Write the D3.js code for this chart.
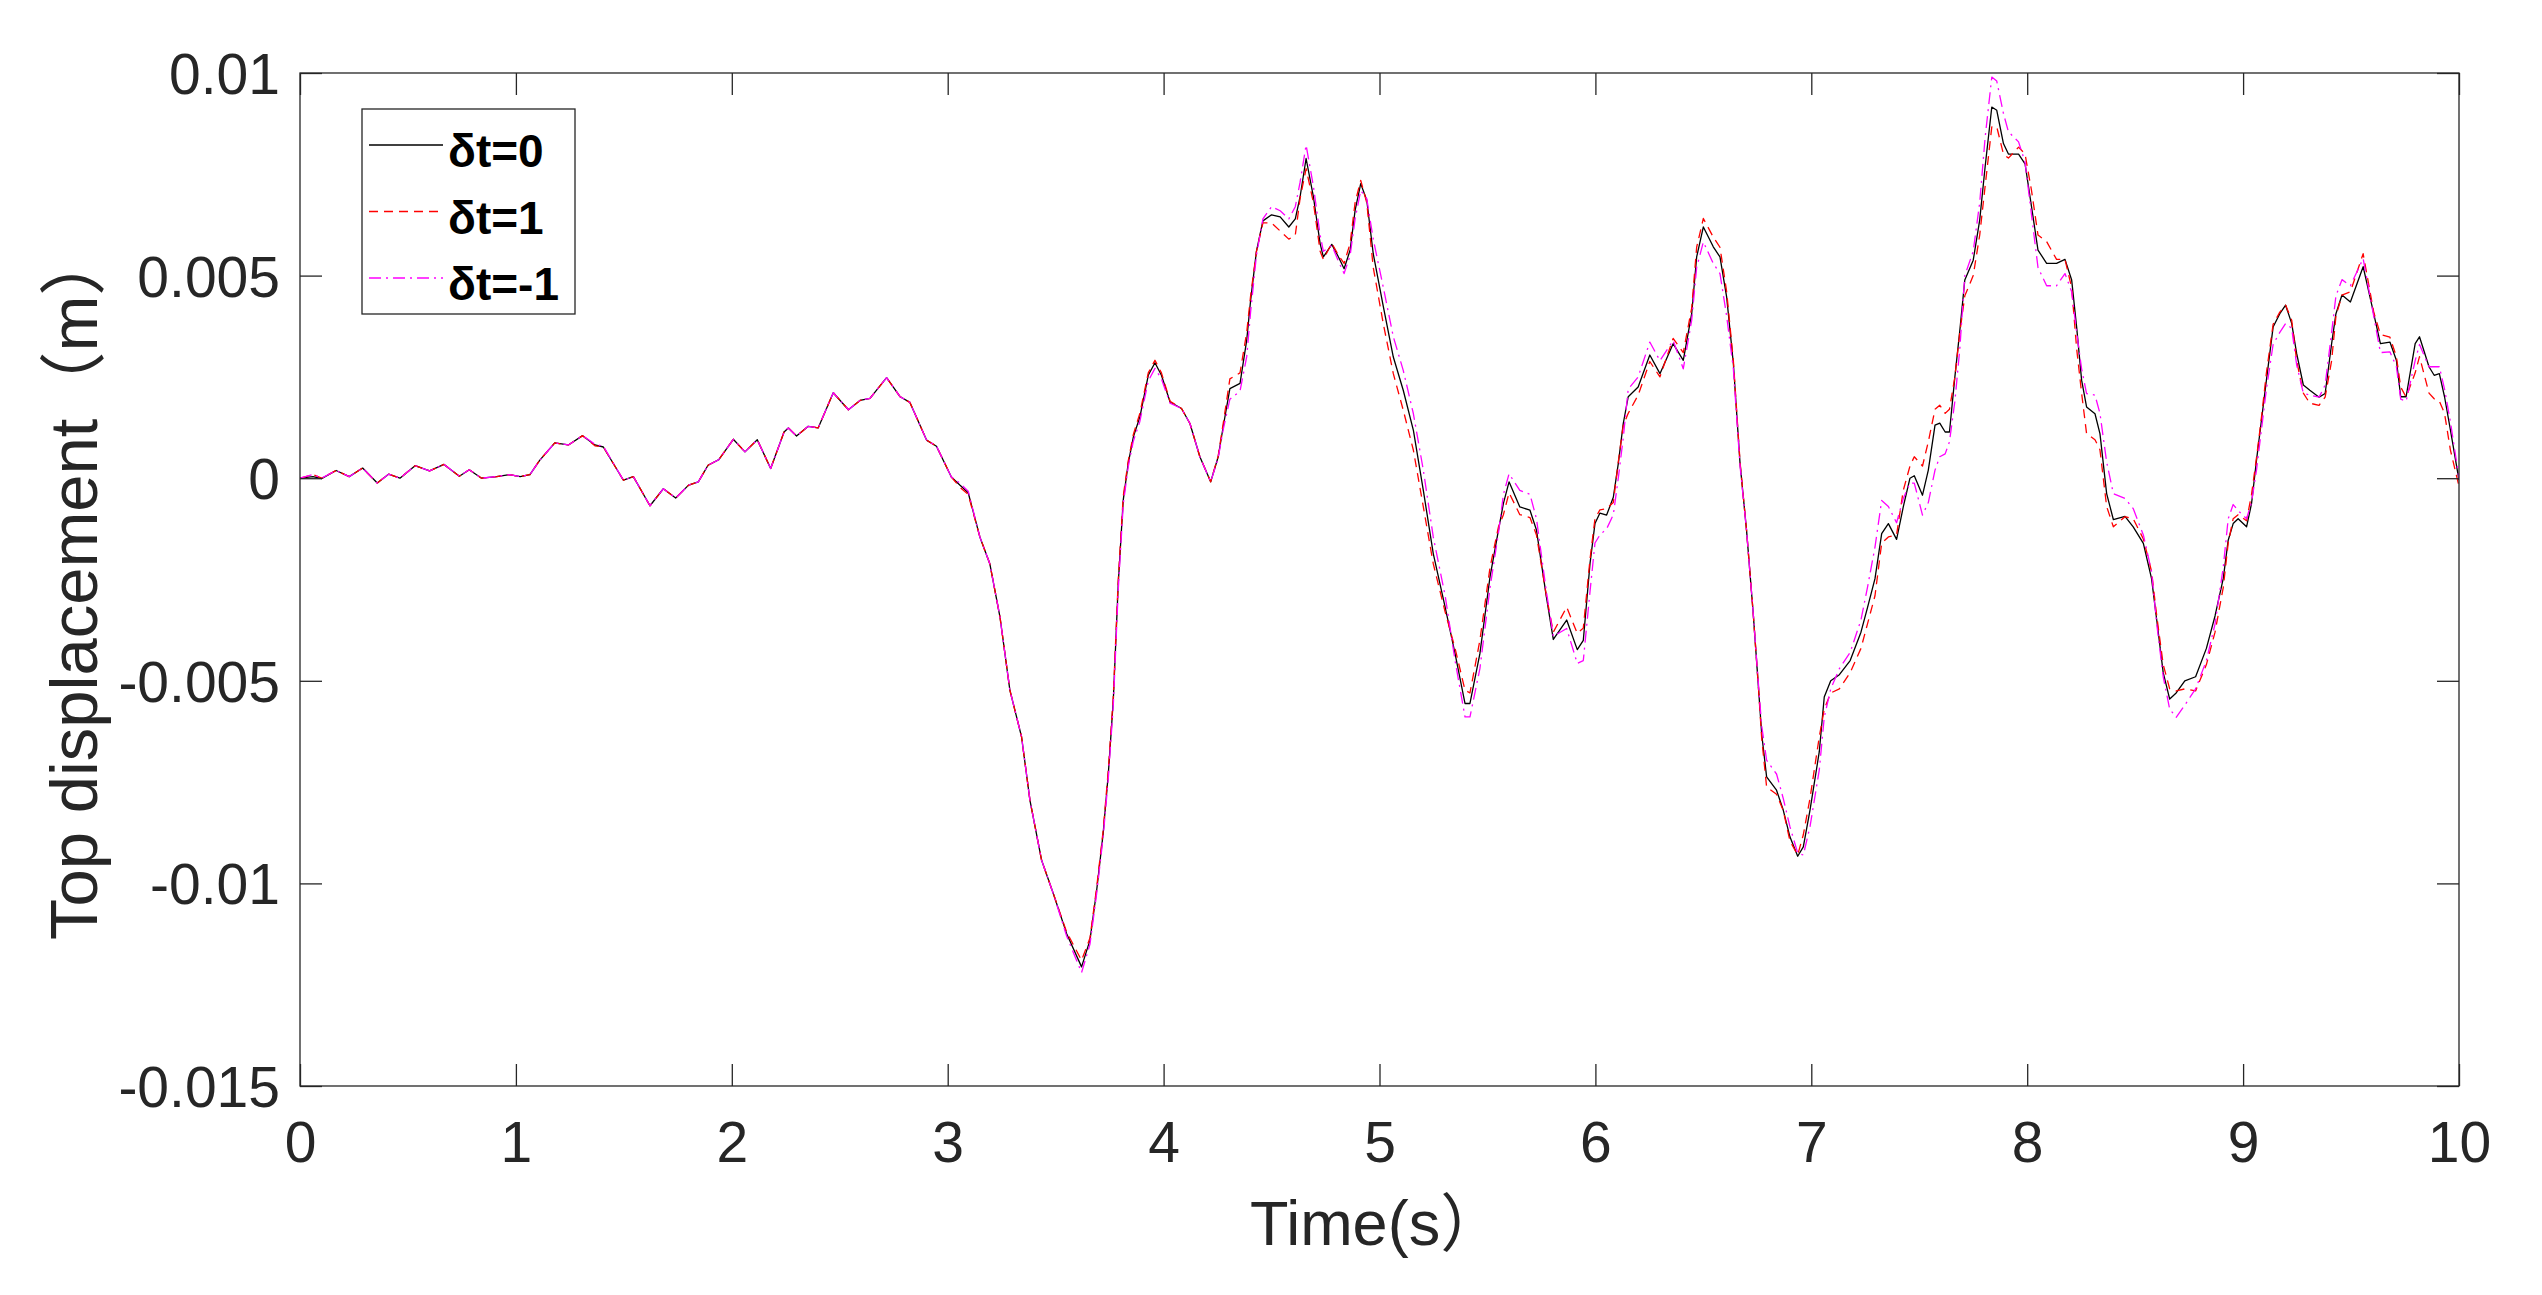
<!DOCTYPE html>
<html>
<head>
<meta charset="utf-8">
<script src="https://cdn.jsdelivr.net/npm/d3@7"></script>
<style>
  html, body { margin: 0; padding: 0; background: #fff; }
  svg { display: block; }
</style>
</head>
<body>
<svg id="chart" width="2542" height="1295"></svg>
<script>
// time samples (s) shared by the three runs
const timeS = [
  0.00, 0.06, 0.10, 0.167, 0.228, 0.29, 0.358, 0.41, 0.463, 0.533,
  0.60, 0.667, 0.738, 0.784, 0.841, 0.911, 0.97, 1.02, 1.065, 1.11,
  1.18, 1.243, 1.309, 1.366, 1.405, 1.498, 1.544, 1.621, 1.683, 1.74,
  1.80, 1.845, 1.89, 1.94, 2.007, 2.061, 2.118, 2.18, 2.242, 2.262,
  2.30, 2.354, 2.40, 2.47, 2.54, 2.594, 2.64, 2.717, 2.78, 2.825,
  2.902, 2.948, 3.017, 3.056, 3.095, 3.149, 3.195, 3.242, 3.288, 3.342,
  3.381, 3.435, 3.489, 3.551, 3.62, 3.659, 3.69, 3.72, 3.744, 3.767,
  3.79, 3.813, 3.836, 3.86, 3.89, 3.929, 3.96, 3.99, 4.03, 4.083,
  4.122, 4.168, 4.218, 4.253, 4.276, 4.307, 4.354, 4.385, 4.403, 4.43,
  4.46, 4.50, 4.54, 4.58, 4.61, 4.632, 4.66, 4.694, 4.725, 4.74,
  4.779, 4.81, 4.836, 4.864, 4.887, 4.913, 4.941, 4.971, 5.018, 5.064,
  5.11, 5.157, 5.203, 5.249, 5.304, 5.35, 5.396, 5.419, 5.465, 5.512,
  5.551, 5.574, 5.60, 5.65, 5.697, 5.727, 5.773, 5.805, 5.867, 5.916,
  5.944, 5.975, 5.998, 6.021, 6.052, 6.083, 6.106, 6.129, 6.152, 6.198,
  6.252, 6.299, 6.36, 6.407, 6.446, 6.469, 6.50, 6.546, 6.577, 6.608,
  6.639, 6.67, 6.70, 6.731, 6.754, 6.77, 6.793, 6.839, 6.87, 6.901,
  6.937, 6.963, 6.994, 7.037, 7.06, 7.09, 7.13, 7.18, 7.23, 7.26,
  7.295, 7.326, 7.357, 7.395, 7.426, 7.457, 7.477, 7.515, 7.542, 7.573,
  7.595, 7.62, 7.64, 7.665, 7.688, 7.711, 7.75, 7.78, 7.805, 7.836,
  7.859, 7.89, 7.913, 7.96, 7.99, 8.02, 8.05, 8.09, 8.136, 8.175,
  8.206, 8.229, 8.252, 8.275, 8.314, 8.337, 8.368, 8.399, 8.453, 8.491,
  8.538, 8.576, 8.60, 8.63, 8.66, 8.69, 8.73, 8.78, 8.83, 8.87,
  8.908, 8.931, 8.954, 8.977, 9.016, 9.039, 9.062, 9.085, 9.108, 9.139,
  9.17, 9.197, 9.225, 9.248, 9.279, 9.309, 9.352, 9.38, 9.41, 9.43,
  9.458, 9.497, 9.556, 9.605, 9.636, 9.68, 9.71, 9.73, 9.755, 9.797,
  9.817, 9.861, 9.885, 9.909, 9.933, 9.96, 10.00
];

// top displacement, in mm (axis labels are in m)
const dt0 = [
  0.00, 0.04, -0.01, 0.19, 0.04, 0.25, -0.12, 0.10, 0.00, 0.31,
  0.18, 0.34, 0.05, 0.21, 0.00, 0.04, 0.09, 0.04, 0.09, 0.44,
  0.87, 0.82, 1.05, 0.82, 0.77, -0.05, 0.04, -0.68, -0.26, -0.49,
  -0.17, -0.09, 0.32, 0.46, 0.96, 0.65, 0.95, 0.24, 1.14, 1.24,
  1.04, 1.28, 1.24, 2.11, 1.69, 1.92, 1.97, 2.48, 2.01, 1.87,
  0.94, 0.79, 0.03, -0.17, -0.36, -1.45, -2.11, -3.42, -5.23, -6.38,
  -7.95, -9.43, -10.25, -11.24, -12.06, -11.40, -10.17, -8.77, -7.29, -5.48,
  -2.60, -0.54, 0.36, 1.02, 1.51, 2.54, 2.85, 2.54, 1.88, 1.72,
  1.35, 0.53, -0.09, 0.53, 1.27, 2.21, 2.34, 3.41, 4.39, 5.60,
  6.35, 6.50, 6.45, 6.20, 6.40, 6.94, 7.89, 6.94, 5.79, 5.46,
  5.77, 5.46, 5.17, 5.63, 6.61, 7.27, 6.86, 5.54, 4.23, 2.99,
  2.17, 1.18, -0.30, -1.86, -3.18, -4.33, -5.56, -5.56, -4.33, -2.43,
  -1.28, -0.62, -0.09, -0.71, -0.79, -1.28, -2.93, -3.98, -3.50, -4.23,
  -4.00, -2.11, -1.12, -0.86, -0.91, -0.47, 0.36, 1.35, 2.01, 2.25,
  3.04, 2.58, 3.32, 2.91, 4.06, 5.46, 6.20, 5.71, 5.46, 4.47,
  2.83, 0.36, -1.28, -3.34, -5.07, -6.30, -7.37, -7.70, -8.19, -8.85,
  -9.33, -9.10, -8.19, -6.75, -5.40, -5.00, -4.85, -4.50, -3.80, -3.20,
  -2.48, -1.37, -1.12, -1.51, -0.71, 0.00, 0.06, -0.42, 0.20, 1.31,
  1.36, 1.14, 1.14, 2.50, 3.65, 4.89, 5.38, 6.37, 7.68, 9.16,
  9.08, 8.26, 8.00, 8.00, 7.76, 6.70, 5.63, 5.30, 5.30, 5.40,
  4.89, 3.73, 2.42, 1.76, 1.59, 1.10, -0.38, -1.02, -0.94, -1.20,
  -1.61, -2.48, -3.50, -4.80, -5.45, -5.30, -5.00, -4.90, -4.20, -3.40,
  -2.48, -1.53, -1.12, -1.00, -1.20, -0.63, 0.44, 1.43, 2.42, 3.73,
  4.06, 4.27, 3.82, 3.08, 2.30, 2.17, 2.00, 2.09, 3.32, 4.06,
  4.52, 4.35, 5.22, 4.06, 3.32, 3.36, 2.91, 2.01, 2.01, 3.32,
  3.49, 2.75, 2.54, 2.58, 2.01, 1.20, -0.05
];

const dt1 = [
  0.00, 0.09, 0.00, 0.19, 0.04, 0.25, -0.12, 0.10, 0.00, 0.31,
  0.18, 0.34, 0.05, 0.21, 0.00, 0.04, 0.09, 0.04, 0.09, 0.44,
  0.87, 0.82, 1.05, 0.80, 0.77, -0.05, 0.04, -0.68, -0.26, -0.49,
  -0.17, -0.09, 0.32, 0.46, 0.96, 0.65, 0.95, 0.24, 1.14, 1.24,
  1.04, 1.28, 1.24, 2.11, 1.69, 1.92, 1.97, 2.48, 2.01, 1.87,
  0.94, 0.79, 0.03, -0.22, -0.40, -1.45, -2.11, -3.42, -5.23, -6.38,
  -7.95, -9.43, -10.25, -11.20, -11.90, -11.35, -10.10, -8.70, -7.20, -5.40,
  -2.50, -0.45, 0.42, 1.08, 1.60, 2.60, 2.91, 2.60, 1.90, 1.72,
  1.35, 0.53, -0.09, 0.55, 1.35, 2.45, 2.60, 3.60, 4.50, 5.60,
  6.30, 6.30, 6.10, 5.90, 6.00, 6.90, 7.64, 6.80, 5.60, 5.40,
  5.80, 5.50, 5.30, 5.80, 6.80, 7.35, 6.80, 5.20, 3.80, 2.58,
  1.68, 0.69, -0.71, -2.11, -3.30, -4.20, -5.23, -5.30, -4.00, -2.20,
  -1.20, -0.90, -0.36, -0.90, -0.97, -1.40, -2.90, -3.80, -3.18, -3.83,
  -3.70, -2.00, -1.00, -0.78, -0.75, -0.60, 0.40, 1.30, 1.60, 2.05,
  2.88, 2.50, 3.45, 3.10, 4.20, 5.70, 6.41, 5.95, 5.70, 4.60,
  2.90, 0.40, -1.28, -3.34, -5.07, -6.40, -7.62, -7.80, -8.20, -8.95,
  -9.30, -8.80, -7.90, -6.38, -5.70, -5.30, -5.20, -4.80, -4.20, -3.60,
  -2.90, -1.60, -1.45, -1.40, -0.30, 0.30, 0.53, 0.30, 0.90, 1.70,
  1.80, 1.60, 1.70, 2.50, 3.60, 4.50, 5.00, 6.00, 7.20, 8.67,
  8.67, 8.00, 7.90, 8.17, 8.00, 7.10, 6.00, 5.84, 5.40, 5.40,
  4.70, 3.20, 2.10, 1.10, 0.95, 0.70, -0.70, -1.20, -0.95, -1.00,
  -1.50, -2.30, -3.40, -4.60, -5.20, -5.25, -5.20, -5.25, -4.60, -3.80,
  -2.70, -1.60, -1.00, -0.90, -1.05, -0.40, 0.50, 1.50, 2.60, 3.80,
  4.10, 4.27, 3.90, 2.90, 2.10, 1.85, 1.80, 2.00, 2.90, 4.00,
  4.52, 4.60, 5.54, 4.10, 3.55, 3.48, 3.00, 2.25, 2.00, 2.60,
  3.00, 2.10, 1.96, 1.90, 1.60, 0.70, -0.20
];

const dtm1 = [
  0.00, 0.09, 0.00, 0.19, 0.04, 0.25, -0.12, 0.10, 0.00, 0.31,
  0.18, 0.34, 0.05, 0.21, 0.00, 0.04, 0.09, 0.04, 0.09, 0.44,
  0.87, 0.82, 1.05, 0.84, 0.79, -0.05, 0.04, -0.68, -0.26, -0.49,
  -0.17, -0.09, 0.32, 0.46, 0.96, 0.65, 0.95, 0.24, 1.14, 1.24,
  1.04, 1.28, 1.24, 2.11, 1.69, 1.92, 1.97, 2.48, 2.01, 1.87,
  0.94, 0.79, 0.03, -0.12, -0.32, -1.45, -2.11, -3.42, -5.23, -6.38,
  -7.95, -9.43, -10.25, -11.30, -12.20, -11.50, -10.25, -8.85, -7.40, -5.60,
  -2.75, -0.65, 0.28, 0.92, 1.40, 2.40, 2.71, 2.45, 1.85, 1.72,
  1.35, 0.53, -0.09, 0.50, 1.20, 1.95, 2.15, 3.00, 4.10, 5.50,
  6.40, 6.70, 6.60, 6.40, 6.70, 7.30, 8.22, 7.20, 6.00, 5.60,
  5.75, 5.35, 5.05, 5.50, 6.40, 7.10, 6.90, 5.90, 4.70, 3.49,
  2.66, 1.59, 0.20, -1.45, -2.90, -4.50, -5.89, -5.89, -4.70, -2.70,
  -1.35, -0.40, 0.11, -0.30, -0.40, -1.00, -2.80, -3.90, -3.71, -4.57,
  -4.50, -2.80, -1.60, -1.40, -1.25, -0.90, 0.00, 1.00, 2.20, 2.50,
  3.36, 2.90, 3.40, 2.70, 3.90, 5.20, 5.83, 5.30, 5.05, 4.00,
  2.70, 0.30, -1.28, -3.34, -5.00, -6.10, -6.96, -7.30, -7.90, -8.60,
  -9.25, -9.30, -8.60, -7.20, -5.90, -5.20, -4.70, -4.30, -3.50, -2.70,
  -1.70, -0.55, -0.70, -1.10, -0.50, -0.12, -0.12, -0.91, -0.60, 0.20,
  0.53, 0.60, 0.90, 1.90, 3.20, 5.00, 5.60, 6.80, 8.40, 9.90,
  9.80, 9.00, 8.55, 8.30, 7.80, 6.50, 5.20, 4.75, 4.75, 5.05,
  4.60, 3.60, 2.70, 2.09, 2.05, 1.60, 0.40, -0.38, -0.50, -0.75,
  -1.40, -2.30, -3.60, -4.90, -5.70, -5.90, -5.60, -5.20, -4.50, -3.60,
  -2.20, -1.00, -0.65, -0.80, -1.00, -0.60, 0.20, 1.20, 2.20, 3.30,
  3.60, 3.82, 3.70, 2.80, 2.10, 2.05, 2.00, 2.30, 3.60, 4.50,
  4.90, 4.75, 5.42, 4.00, 3.10, 3.12, 2.75, 1.95, 1.90, 2.90,
  3.30, 2.75, 2.75, 2.75, 2.20, 1.40, 0.00
];

const xTicks = [0, 1, 2, 3, 4, 5, 6, 7, 8, 9, 10];
const yTicks = [-15, -10, -5, 0, 5, 10];
const yTickLabels = ['-0.015', '-0.01', '-0.005', '0', '0.005', '0.01'];

const seriesNames = ['δt=0', 'δt=1', 'δt=-1'];
const seriesColors = ['#000000', '#ff0000', '#ff00ff'];
const seriesDash = [null, '9,6', '12,5,2,5'];

const AXIS_COLOR = '#262626';
const TICK_LEN = 22;
const FONT = '"Liberation Sans", Arial, Helvetica, sans-serif';
const CJK = '"Noto Sans CJK SC", sans-serif';

const svg = d3.select('#chart');
const margin = { left: 300, right: 2542 - 2459, top: 73, bottom: 1295 - 1086 };
const width = 2542 - margin.left - margin.right;
const height = 1295 - margin.top - margin.bottom;

svg.append('rect').attr('width', 2542).attr('height', 1295).attr('fill', '#fff');

const x = d3.scaleLinear().domain([0, 10]).range([0, width]);
const y = d3.scaleLinear().domain([-15, 10]).range([height, 0]);

const g = svg.append('g').attr('transform', `translate(${margin.left},${margin.top})`);

g.append('clipPath').attr('id', 'plotClip')
  .append('rect').attr('width', width).attr('height', height);

const line = d3.line()
  .x(d => x(d[0]))
  .y(d => y(d[1]));

const allSeries = [dt0, dt1, dtm1];

g.append('g')
  .attr('clip-path', 'url(#plotClip)')
  .selectAll('path')
  .data(allSeries)
  .enter().append('path')
    .attr('d', vals => line(timeS.map((t, i) => [t, vals[i]])))
    .attr('fill', 'none')
    .attr('stroke', (d, i) => seriesColors[i])
    .attr('stroke-width', 1.3)
    .attr('stroke-dasharray', (d, i) => seriesDash[i])
    .attr('stroke-linejoin', 'round');

// axes: ticks point inward on all four sides, matlab style
const fmtY = v => yTickLabels[yTicks.indexOf(v)];

const xBottom = g.append('g').attr('transform', `translate(0,${height})`)
  .call(d3.axisBottom(x).tickValues(xTicks).tickSizeInner(-TICK_LEN).tickSizeOuter(0).tickPadding(36));
const xTop = g.append('g')
  .call(d3.axisTop(x).tickValues(xTicks).tickSizeInner(-TICK_LEN).tickSizeOuter(0).tickFormat(''));
const yLeft = g.append('g')
  .call(d3.axisLeft(y).tickValues(yTicks).tickSizeInner(-TICK_LEN).tickSizeOuter(0).tickPadding(20).tickFormat(fmtY));
const yRight = g.append('g').attr('transform', `translate(${width},0)`)
  .call(d3.axisRight(y).tickValues(yTicks).tickSizeInner(-TICK_LEN).tickSizeOuter(0).tickFormat(''));

[xBottom, xTop, yLeft, yRight].forEach(a => {
  a.select('.domain').remove();
  a.selectAll('line').attr('stroke', AXIS_COLOR).attr('stroke-width', 1.3);
  a.selectAll('text')
    .attr('fill', AXIS_COLOR)
    .style('font-family', FONT)
    .style('font-size', '57px');
});
xBottom.selectAll('text').attr('dy', '0.71em');
yLeft.selectAll('text').attr('dy', '0.36em');

g.append('rect')
  .attr('width', width).attr('height', height)
  .attr('fill', 'none')
  .attr('stroke', AXIS_COLOR)
  .attr('stroke-width', 1.3);

// axis titles, the closing brackets are full width
const xTitle = svg.append('text')
  .attr('x', 1250).attr('y', 1245)
  .attr('fill', AXIS_COLOR)
  .style('font-family', FONT)
  .style('font-size', '63px');
xTitle.append('tspan').text('Time(s');
xTitle.append('tspan').style('font-family', CJK).text('）');

const yTitle = svg.append('text')
  .attr('transform', 'translate(97,940) rotate(-90)')
  .attr('fill', AXIS_COLOR)
  .style('font-family', FONT)
  .style('font-size', '67px');
yTitle.append('tspan').text('Top displacement');
yTitle.append('tspan').style('font-family', CJK).text('（');
yTitle.append('tspan').text('m');
yTitle.append('tspan').style('font-family', CJK).text('）');

// legend
const legend = svg.append('g').attr('transform', 'translate(362,109)');
legend.append('rect')
  .attr('width', 213).attr('height', 205)
  .attr('fill', '#fff')
  .attr('stroke', AXIS_COLOR)
  .attr('stroke-width', 1.3);

const item = legend.selectAll('g.item')
  .data(seriesNames)
  .enter().append('g')
    .attr('class', 'item')
    .attr('transform', (d, i) => `translate(0,${36 + i * 66.5})`);

item.append('line')
  .attr('x1', 7).attr('x2', 81)
  .attr('stroke', (d, i) => seriesColors[i])
  .attr('stroke-width', 1.3)
  .attr('stroke-dasharray', (d, i) => seriesDash[i]);

item.append('text')
  .attr('x', 86).attr('y', 22)
  .style('font-family', FONT)
  .style('font-size', '46px')
  .style('font-weight', 'bold')
  .attr('fill', '#000')
  .text(d => d);
</script>
</body>
</html>
